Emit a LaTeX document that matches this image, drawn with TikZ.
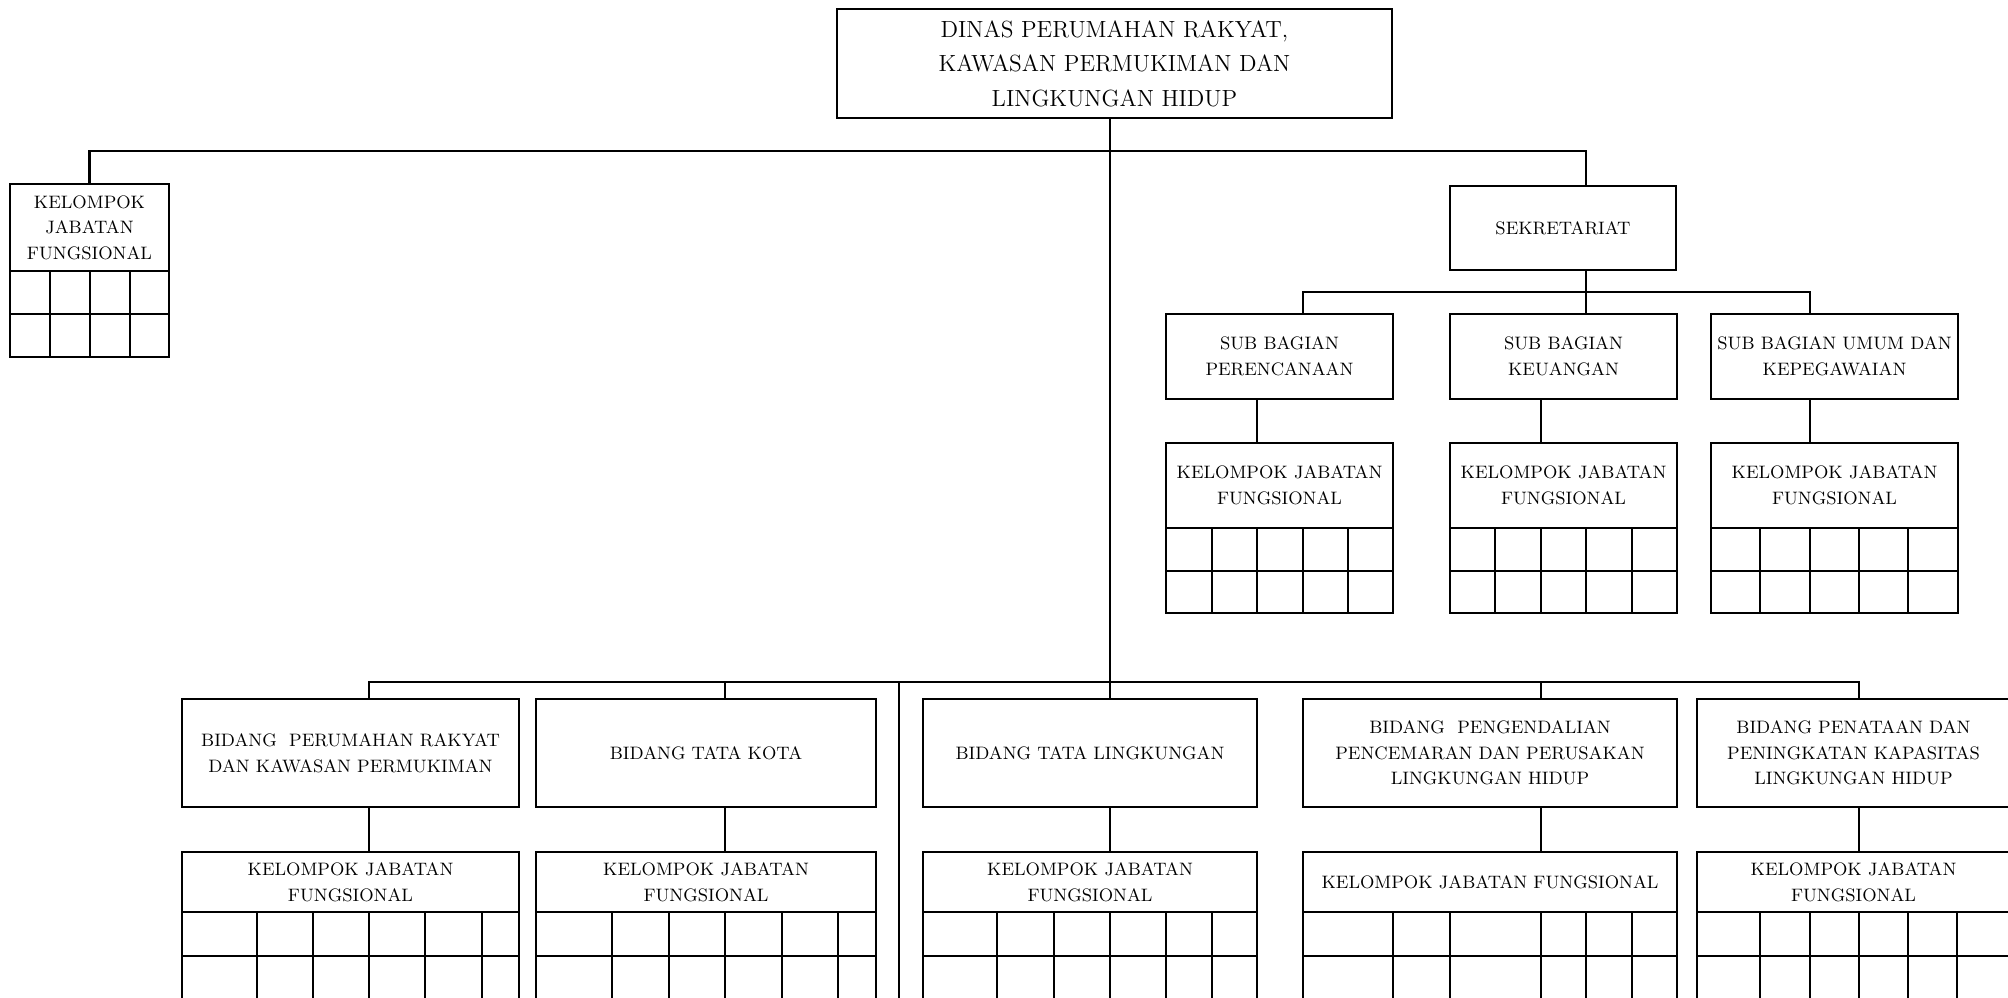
\documentclass[tikz,border=0pt]{standalone}
\begin{document}
\begin{tikzpicture}[x=0.5pt,y=-0.5pt,
  ln/.style={line width=1.3pt},
  box/.style={draw,ln,rectangle,inner sep=0pt,outer sep=0pt,align=center,font=\fontsize{9}{12.8}\selectfont},
  bigbox/.style={box,font=\fontsize{11.7}{17.3}\selectfont}]
\newcommand\bx[7][box]{\node[#1, minimum width={(#5-#3)*0.5pt}, minimum height={(#6-#4)*0.5pt}] (#2) at ({(#3+#5)/2},{(#4+#6)/2}) {#7};}
\newcommand\tbl[6]{% x1,x2,header-bottom,row,bottom,cols
  \draw[ln] (#1,#3) rectangle (#2,#5);
  \draw[ln] (#1,#4) -- (#2,#4);
  \foreach \c in {#6} {\draw[ln] (\c,#3) -- (\c,#5);}
}
\useasboundingbox (0,0) rectangle (2008,997);
\clip (0,0) rectangle (2008,997);
\fill[white] (0,0) rectangle (2008,997);

% top
\bx[bigbox]{top}{837}{9}{1392}{118}{DINAS PERUMAHAN RAKYAT,\\KAWASAN PERMUKIMAN DAN\\LINGKUNGAN HIDUP}

% left group
\bx{kjf0}{10}{184}{169}{271}{KELOMPOK\\JABATAN\\FUNGSIONAL}
\tbl{10}{169}{271}{314}{357}{50,90,130}

% sekretariat
\bx{sek}{1450}{186}{1676}{270}{SEKRETARIAT}
\bx{sbp}{1166}{314}{1393}{399}{SUB BAGIAN\\PERENCANAAN}
\bx{sbk}{1450}{314}{1677}{399}{SUB BAGIAN\\KEUANGAN}
\bx{sbu}{1711}{314}{1958}{399}{SUB BAGIAN UMUM DAN\\KEPEGAWAIAN}
\bx{kjf1}{1166}{443}{1393}{528}{KELOMPOK JABATAN\\FUNGSIONAL}
\tbl{1166}{1393}{528}{571}{613}{1212,1257,1303,1348}
\bx{kjf2}{1450}{443}{1677}{528}{KELOMPOK JABATAN\\FUNGSIONAL}
\tbl{1450}{1677}{528}{571}{613}{1495,1541,1586,1632}
\bx{kjf3}{1711}{443}{1958}{528}{KELOMPOK JABATAN\\FUNGSIONAL}
\tbl{1711}{1958}{528}{571}{613}{1760,1810,1859,1908}

% bidang
\bx{b1}{182}{699}{519}{807}{BIDANG\ \ PERUMAHAN RAKYAT\\DAN KAWASAN PERMUKIMAN}
\bx{b2}{536}{699}{876}{807}{BIDANG TATA KOTA}
\bx{b3}{923}{699}{1257}{807}{BIDANG TATA LINGKUNGAN}
\bx{b4}{1303}{699}{1677}{807}{BIDANG\ \ PENGENDALIAN\\PENCEMARAN DAN PERUSAKAN\\LINGKUNGAN HIDUP}
\bx{b5}{1697}{699}{2010}{807}{BIDANG PENATAAN DAN\\PENINGKATAN KAPASITAS\\LINGKUNGAN HIDUP}

\bx{k1}{182}{852}{519}{912}{KELOMPOK JABATAN\\FUNGSIONAL}
\tbl{182}{519}{912}{956}{1010}{257,313,369,425,482}
\bx{k2}{536}{852}{876}{912}{KELOMPOK JABATAN\\FUNGSIONAL}
\tbl{536}{876}{912}{956}{1010}{612,669,725,782,838}
\bx{k3}{923}{852}{1257}{912}{KELOMPOK JABATAN\\FUNGSIONAL}
\tbl{923}{1257}{912}{956}{1010}{997,1054,1110,1166,1212}
\bx{k4}{1303}{852}{1677}{912}{KELOMPOK JABATAN FUNGSIONAL}
\tbl{1303}{1677}{912}{956}{1010}{1393,1450,1541,1586,1632}
\bx{k5}{1697}{852}{2010}{912}{KELOMPOK JABATAN\\FUNGSIONAL}
\tbl{1697}{2010}{912}{956}{1010}{1760,1810,1859,1908,1957}

% connector coordinates
\coordinate (c0) at (1110,151);
\coordinate (j1) at (1586,151);
\coordinate (j2) at (1586,292);
\coordinate (p1) at (1303,292);
\coordinate (p3) at (1810,292);
\coordinate (q1) at (1257,0);
\coordinate (q2) at (1541,0);
\coordinate (q3) at (1810,0);
\coordinate (r1) at (369,682);
\coordinate (r2) at (725,682);
\coordinate (r4) at (1541,682);
\coordinate (r5) at (1859,682);
\coordinate (r6) at (899,682);
\coordinate (e6) at (899,1000);

% connectors
\draw[ln] (top.south -| c0) -- (b3.north -| c0);
\draw[ln] (kjf0.north) |- (j1) -- (sek.north -| j1);
\draw[ln] (sek.south -| j2) -- (sbk.north -| j2);
\draw[ln] (sbp.north -| p1) -- (p1) -- (p3) -- (sbu.north -| p3);
\draw[ln] (sbp.south -| q1) -- (kjf1.north -| q1);
\draw[ln] (sbk.south -| q2) -- (kjf2.north -| q2);
\draw[ln] (sbu.south -| q3) -- (kjf3.north -| q3);

\draw[ln] (b1.north -| r1) -- (r1) -- (r5) -- (b5.north -| r5);
\draw[ln] (r2) -- (b2.north -| r2);
\draw[ln] (r4) -- (b4.north -| r4);
\draw[ln] (r6) -- (e6);
\draw[ln] (b1.south -| r1) -- (k1.north -| r1);
\draw[ln] (b2.south -| r2) -- (k2.north -| r2);
\draw[ln] (b3.south -| c0) -- (k3.north -| c0);
\draw[ln] (b4.south -| r4) -- (k4.north -| r4);
\draw[ln] (b5.south -| r5) -- (k5.north -| r5);
\end{tikzpicture}
\end{document}
